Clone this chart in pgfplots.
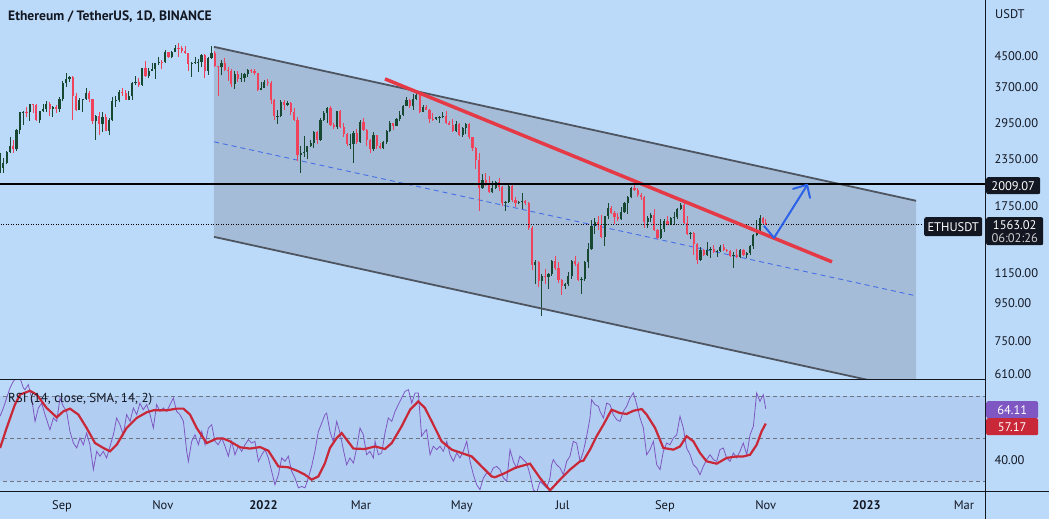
\documentclass[border=0pt]{standalone}
\usepackage{pgfplots}
\pgfplotsset{compat=1.18}
\usepackage{pgfplotstable}
\usepackage{fontspec}
\setmainfont{PT Sans}

\definecolor{bg}{RGB}{187,218,250}
\definecolor{chanfill}{RGB}{164,188,216}
\definecolor{chanline}{RGB}{78,85,96}
\definecolor{band}{RGB}{177,205,241}
\definecolor{cup}{RGB}{22,72,50}
\definecolor{cdown}{RGB}{240,66,90}
\definecolor{trend}{RGB}{229,57,70}
\definecolor{arrowblue}{RGB}{44,98,232}
\definecolor{midblue}{RGB}{70,110,230}
\definecolor{rsipurple}{RGB}{126,87,194}
\definecolor{rsired}{RGB}{200,40,55}
\definecolor{txt}{RGB}{19,23,34}
\definecolor{dashgray}{RGB}{110,115,128}

\pgfplotstableread{
d o h l c
-39.5 2120 2200 2100 2190
-37.5 2190 2450 2150 2230
-35.5 2230 2370 2160 2300
-33.5 2300 2470 2280 2460
-31.5 2460 2700 2440 2560
-29.5 2560 2660 2450 2500
-27.5 2500 2840 2480 2830
-25.5 2830 3170 2760 3160
-23.5 3160 3190 2920 3170
-21.5 3170 3270 3060 3160
-19.5 3160 3330 2990 3320
-17.5 3320 3330 3150 3310
-15.5 3310 3330 2980 3010
-13.5 3010 3190 2950 3180
-11.5 3180 3330 3160 3230
-9.5 3230 3380 3160 3320
-7.5 3320 3360 3080 3230
-5.5 3230 3280 3070 3270
-3.5 3270 3300 3150 3220
-1.5 3220 3470 3170 3430
0.5 3430 3840 3380 3790
2.5 3790 4030 3710 3890
4.5 3890 3970 3830 3930
6.5 3930 3960 3010 3500
8.5 3500 3560 3180 3210
10.5 3210 3450 3200 3410
12.5 3410 3440 3160 3430
14.5 3430 3670 3420 3570
16.5 3570 3600 3360 3430
18.5 3430 3440 2930 2980
20.5 2980 3110 2650 3080
22.5 3080 3170 2740 2930
24.5 2930 3160 2790 3060
26.5 3060 3130 2800 2810
28.5 2810 3050 2740 3000
30.5 3000 3470 2980 3390
32.5 3390 3490 3270 3400
34.5 3400 3620 3370 3590
36.5 3590 3670 3500 3560
38.5 3560 3620 3400 3420
40.5 3420 3610 3400 3490
42.5 3490 3820 3400 3790
44.5 3790 3970 3750 3830
46.5 3830 3920 3690 3750
48.5 3750 4180 3730 4160
50.5 4160 4370 3950 3970
52.5 3970 4180 3910 4090
54.5 4090 4300 4090 4130
56.5 4130 4300 3900 4290
58.5 4290 4460 4260 4330
60.5 4330 4380 4150 4320
62.5 4320 4660 4300 4610
64.5 4610 4620 4440 4480
66.5 4480 4640 4430 4620
68.5 4620 4830 4610 4730
70.5 4730 4870 4480 4720
72.5 4720 4790 4570 4650
74.5 4650 4780 4560 4580
76.5 4580 4590 4080 4280
78.5 4280 4340 3950 4300
80.5 4300 4460 4280 4320
82.5 4320 4400 4060 4340
84.5 4340 4550 4200 4520
86.5 4520 4550 3920 4100
88.5 4100 4460 3990 4440
90.5 4440 4780 4420 4590
92.5 4590 4630 4200 4220
94.5 4220 4230 3500 4200
96.5 4200 4380 3980 4310
98.5 4310 4450 4090 4110
100.5 4110 4200 3850 4080
102.5 4080 4140 3690 3780
104.5 3780 4090 3650 4020
106.5 4020 4100 3830 3880
108.5 3880 4050 3830 3920
110.5 3920 4040 3820 4020
112.5 4020 4140 3940 4110
114.5 4110 4150 4030 4100
116.5 4100 4130 3990 4040
118.5 4040 4050 3600 3630
120.5 3630 3810 3620 3680
122.5 3680 3860 3670 3830
124.5 3830 3880 3720 3790
126.5 3790 3850 3320 3420
128.5 3420 3430 3000 3080
130.5 3080 3210 2930 3090
132.5 3090 3400 3060 3370
134.5 3370 3410 3200 3310
136.5 3310 3390 3280 3350
138.5 3350 3370 3100 3160
140.5 3160 3250 2990 3000
142.5 3000 3060 2320 2410
144.5 2410 2550 2160 2440
146.5 2440 2720 2390 2460
148.5 2460 2560 2360 2550
150.5 2550 2660 2540 2610
152.5 2610 2800 2520 2790
154.5 2790 2800 2580 2660
156.5 2660 3040 2640 3010
158.5 3010 3190 2990 3140
160.5 3140 3260 2950 3240
162.5 3240 3280 2900 2920
164.5 2920 2960 2850 2880
166.5 2880 3190 2850 3180
168.5 3180 3200 2860 2880
170.5 2880 2950 2710 2760
172.5 2760 2770 2560 2580
174.5 2580 2750 2510 2590
176.5 2590 2800 2300 2770
178.5 2770 2840 2580 2620
180.5 2620 3000 2600 2970
182.5 2970 3050 2800 2830
184.5 2830 2850 2560 2660
186.5 2660 2670 2450 2500
188.5 2500 2780 2480 2730
190.5 2730 2740 2510 2560
192.5 2560 2610 2510 2520
194.5 2520 2640 2500 2620
196.5 2620 2830 2580 2810
198.5 2810 2980 2780 2950
200.5 2950 2960 2830 2900
202.5 2900 3040 2890 3030
204.5 3030 3190 2980 3110
206.5 3110 3300 3080 3290
208.5 3290 3480 3280 3400
210.5 3400 3440 3250 3280
212.5 3280 3530 3210 3440
214.5 3440 3580 3400 3520
216.5 3520 3550 3150 3170
218.5 3170 3300 3160 3260
220.5 3260 3300 3200 3210
222.5 3210 3220 2950 3030
224.5 3030 3150 2990 3020
226.5 3020 3070 3000 3060
228.5 3060 3080 2950 3070
230.5 3070 3170 3040 3080
232.5 3080 3190 2940 2960
234.5 2960 2980 2910 2920
236.5 2920 3020 2790 2810
238.5 2810 2990 2780 2940
240.5 2940 2950 2720 2730
242.5 2730 2880 2710 2860
244.5 2860 2960 2760 2940
246.5 2940 2950 2670 2700
248.5 2700 2710 2480 2520
250.5 2520 2530 2210 2340
252.5 2340 2450 1700 1960
254.5 1960 2140 1950 2060
256.5 2060 2160 1990 2020
258.5 2020 2110 1900 1910
260.5 1910 2050 1900 1960
262.5 1960 2050 1950 2040
264.5 2040 2090 1920 1980
266.5 1980 1990 1750 1790
268.5 1790 1810 1700 1800
270.5 1800 2010 1780 1990
272.5 1990 2000 1800 1820
274.5 1820 1850 1740 1780
276.5 1780 1810 1770 1800
278.5 1800 1900 1720 1810
280.5 1810 1820 1760 1790
282.5 1790 1800 1510 1530
284.5 1530 1540 1170 1210
286.5 1210 1250 1070 1230
288.5 1230 1240 1050 1090
290.5 1090 1140 880 1130
292.5 1130 1180 1070 1120
294.5 1120 1150 1040 1140
296.5 1140 1250 1130 1240
298.5 1240 1280 1170 1190
300.5 1190 1230 1080 1100
302.5 1100 1110 1000 1060
304.5 1060 1080 1040 1070
306.5 1070 1160 1060 1130
308.5 1130 1250 1110 1240
310.5 1240 1280 1200 1220
312.5 1220 1230 1090 1100
314.5 1100 1120 1010 1110
316.5 1110 1240 1090 1230
318.5 1230 1390 1190 1340
320.5 1340 1600 1330 1540
322.5 1540 1620 1470 1580
324.5 1580 1640 1510 1550
326.5 1550 1660 1430 1440
328.5 1440 1650 1360 1640
330.5 1640 1790 1610 1730
332.5 1730 1750 1670 1680
334.5 1680 1700 1560 1630
336.5 1630 1680 1590 1610
338.5 1610 1740 1600 1690
340.5 1690 1800 1680 1780
342.5 1780 1860 1670 1850
344.5 1850 1970 1840 1960
346.5 1960 2030 1930 1940
348.5 1940 1960 1850 1880
350.5 1880 1900 1820 1850
352.5 1850 1860 1530 1580
354.5 1580 1640 1530 1620
356.5 1620 1680 1580 1660
358.5 1660 1720 1500 1510
360.5 1510 1520 1420 1430
362.5 1430 1610 1420 1520
364.5 1520 1610 1490 1590
366.5 1590 1650 1550 1560
368.5 1560 1630 1550 1620
370.5 1620 1690 1550 1630
372.5 1630 1730 1610 1720
374.5 1720 1790 1710 1760
376.5 1760 1780 1560 1570
378.5 1570 1650 1460 1470
380.5 1470 1490 1420 1480
382.5 1480 1490 1290 1380
384.5 1380 1390 1220 1250
386.5 1250 1350 1240 1330
388.5 1330 1340 1280 1290
390.5 1290 1400 1280 1330
392.5 1330 1350 1260 1340
394.5 1340 1370 1300 1310
396.5 1310 1330 1270 1320
398.5 1320 1370 1310 1350
400.5 1350 1380 1320 1330
402.5 1330 1340 1310 1320
404.5 1320 1330 1270 1280
406.5 1280 1310 1190 1290
408.5 1290 1340 1260 1270
410.5 1270 1340 1260 1330
412.5 1330 1340 1280 1290
414.5 1290 1310 1260 1300
416.5 1300 1370 1290 1360
418.5 1360 1470 1340 1460
420.5 1460 1600 1450 1510
422.5 1510 1660 1500 1620
424.5 1620 1630 1560 1570
426.0 1570 1610 1555 1563.02
}\candles

\pgfplotstableread{
d r
-37.5 60.6
-35.5 64.5
-33.5 69.2
-31.5 73.9
-29.5 77.0
-27.4 79.0
-25.4 78.5
-23.4 74.0
-22.4 73.1
-20.4 75.5
-18.4 69.2
-16.3 58.2
-14.3 64.5
-12.3 66.8
-10.3 61.4
-7.3 54.3
-5.2 59.8
-3.2 58.2
-1.2 69.2
0.8 65.3
2.8 62.9
4.8 53.5
6.9 48.0
8.9 45.7
10.9 50.4
12.9 47.2
14.9 52.7
16.9 47.2
19.0 35.5
21.0 44.1
23.0 41.8
25.0 44.1
27.0 41.0
29.1 46.5
31.1 51.9
33.1 59.8
35.1 56.6
37.1 51.9
39.1 61.4
41.2 58.2
43.2 64.5
45.2 61.4
47.2 66.8
49.2 63.7
51.3 66.1
53.3 61.4
55.3 55.1
57.3 66.1
59.3 62.9
61.4 64.5
63.4 62.9
65.4 66.1
67.4 69.2
69.4 62.9
71.4 61.4
73.5 58.2
75.5 44.1
76.5 39.4
78.5 48.8
80.5 51.9
82.6 47.2
84.6 53.5
86.6 47.2
88.6 55.1
90.6 56.6
92.6 48.8
94.6 47.2
96.7 50.4
98.7 46.5
100.7 41.8
102.7 48.8
104.7 42.5
106.7 46.5
108.8 44.1
110.8 47.2
112.8 49.6
114.8 48.0
116.8 48.8
118.9 39.4
120.9 42.5
122.9 44.9
124.9 41.0
126.9 34.7
128.9 28.4
131.0 33.1
133.0 41.0
135.0 39.4
137.0 41.8
139.0 34.7
141.0 31.6
143.1 26.9
145.1 27.6
147.1 26.9
149.1 31.6
151.1 37.0
153.1 44.1
155.2 53.5
157.2 57.4
159.2 61.4
160.2 62.1
162.2 53.5
164.2 48.8
166.3 58.2
168.3 52.7
170.3 44.9
172.3 37.8
174.3 41.0
176.4 38.6
178.4 45.7
180.4 55.1
182.4 51.9
184.4 42.5
186.4 44.1
188.5 41.0
189.5 48.8
191.5 42.5
193.5 43.3
195.5 52.7
197.5 59.8
199.6 58.2
201.6 62.9
203.6 66.1
205.6 69.2
207.6 72.3
209.7 73.1
211.7 66.8
213.7 71.6
215.7 71.6
216.7 61.4
217.7 51.2
219.7 53.5
220.7 54.3
222.8 42.5
224.8 46.5
226.8 44.9
228.8 46.5
230.8 44.1
232.9 48.8
234.9 42.5
236.9 39.4
238.9 43.3
240.9 41.0
242.9 44.1
245.0 48.8
247.0 39.4
249.0 33.1
251.0 28.4
253.0 26.1
255.1 31.6
257.1 33.9
259.1 33.1
261.1 36.3
263.1 37.0
265.1 35.5
267.2 31.6
269.2 30.0
271.2 44.9
273.2 39.4
275.2 36.3
277.2 41.8
279.3 40.2
281.3 38.6
283.3 33.1
285.3 26.1
287.3 24.5
289.4 30.0
291.4 28.4
293.4 26.9
295.4 31.6
296.4 37.8
297.4 40.2
299.4 37.8
301.5 36.3
303.5 33.1
305.5 39.4
307.5 41.8
309.5 48.8
311.5 48.0
313.6 39.4
315.6 44.1
317.6 51.2
319.6 59.8
320.6 68.4
322.6 66.1
324.7 65.3
325.7 62.9
327.7 59.8
329.7 66.8
331.7 66.1
333.7 61.4
335.8 59.0
337.8 58.2
339.8 62.9
341.8 65.3
343.8 69.2
345.9 71.6
347.9 66.1
349.9 59.8
351.9 55.1
353.9 42.5
355.9 44.9
358.0 48.8
360.0 37.8
362.0 35.5
364.0 44.1
366.0 48.0
368.0 47.2
370.1 50.4
372.1 51.9
374.1 60.6
376.1 55.1
378.1 45.7
380.2 42.5
382.2 37.8
384.2 36.3
386.2 33.1
388.2 37.0
390.2 40.2
392.3 42.5
394.3 40.2
396.3 39.4
398.3 44.9
400.3 45.7
402.3 41.0
404.4 39.4
406.4 43.3
408.4 41.0
410.4 44.1
412.4 48.0
414.5 42.5
416.5 51.9
418.5 55.9
420.5 71.6
422.5 67.6
424.5 70.8
426.0 64.11
}\rsi

\pgfplotstableread{
d r
-37.5 45.7
-33.5 55.1
-28.5 66.1
-25.4 70.8
-19.4 72.6
-15.3 70.8
-9.3 64.5
-3.2 60.1
0.8 62.9
4.8 64.2
9.9 61.4
14.9 55.1
20.0 48.0
25.0 45.7
29.1 44.1
33.1 47.2
39.1 55.1
45.2 59.8
51.3 62.5
55.3 63.4
63.4 63.4
69.4 64.2
73.5 64.2
77.5 61.4
81.5 55.1
87.6 48.0
93.6 50.1
97.7 50.1
101.7 48.8
107.8 46.0
113.8 45.4
119.9 46.1
124.9 44.4
131.0 37.0
137.0 36.6
143.1 34.7
147.1 33.1
151.1 30.8
155.2 32.3
159.2 38.6
162.2 45.7
166.3 50.4
169.3 52.7
172.3 49.6
176.4 45.4
183.4 45.2
189.5 46.4
195.5 45.2
199.6 48.0
205.6 55.9
210.7 63.7
215.7 67.6
219.7 64.5
223.8 58.2
229.8 48.8
235.9 44.9
241.9 43.3
248.0 41.7
254.0 37.0
260.1 32.3
262.1 31.9
268.2 33.9
274.2 36.3
277.2 37.0
283.3 38.3
289.4 31.5
295.4 25.7
301.5 30.8
307.5 35.5
313.6 39.4
315.6 39.7
319.6 44.9
323.6 51.2
327.7 56.6
332.7 63.7
337.8 62.1
341.8 61.7
345.9 63.2
350.9 64.0
353.9 61.4
359.0 55.1
364.0 45.7
370.1 44.9
374.1 46.4
378.1 51.2
382.2 48.8
386.2 43.3
390.2 39.4
396.3 38.3
402.3 41.0
408.4 41.7
412.4 41.7
416.5 42.5
420.5 47.2
423.5 53.5
426.0 57.17
}\rsisma

\begin{document}
\begin{tikzpicture}
\useasboundingbox (0pt,0pt) rectangle (1049pt,519pt);
\fill[bg] (0pt,0pt) rectangle (1049pt,519pt);

% ---------------- price pane ----------------
\begin{axis}[
  at={(0pt,139pt)}, anchor=south west, scale only axis,
  width=985pt, height=380pt,
  xmin=-37.53, xmax=558.72,
  ymode=log, ymin=587, ymax=6393,
  axis line style={draw=none},
  xtick=\empty,
  ytick={610,750,950,1150,1750,2350,2950,3700,4500},
  yticklabels={610.00,750.00,950.00,1150.00,1750.00,2350.00,2950.00,3700.00,4500.00},
  yticklabel pos=right,
  yticklabel style={anchor=west, xshift=6pt, font=\fontsize{12.5}{15}\selectfont, text=txt},
  major tick length=0pt,
  clip=true,
]
\addplot[fill=chanfill, draw=none, forget plot] coordinates {(92.0,4762) (517.0,1810) (517.0,560) (508.7,560) (92.0,1443)} -- cycle;
\addplot[midblue, line width=0.9pt, dash pattern=on 5pt off 4pt, forget plot] coordinates {(92.0,2622) (517.0,996)};
\pgfplotstablegetrowsof{\candles}
\pgfmathtruncatemacro\nlast{\pgfplotsretval-1}
\foreach \i in {0,...,\nlast}{%
  \pgfplotstablegetelem{\i}{d}\of\candles \let\cD\pgfplotsretval
  \pgfplotstablegetelem{\i}{o}\of\candles \let\cO\pgfplotsretval
  \pgfplotstablegetelem{\i}{h}\of\candles \let\cH\pgfplotsretval
  \pgfplotstablegetelem{\i}{l}\of\candles \let\cL\pgfplotsretval
  \pgfplotstablegetelem{\i}{c}\of\candles \let\cC\pgfplotsretval
  \pgfmathtruncatemacro\isdown{\cC<\cO}%
  \ifnum\isdown=1 \def\ccol{cdown}\else\def\ccol{cup}\fi
  \edef\doit{%
    \noexpand\addplot[forget plot, color=\ccol, line width=0.9pt] coordinates {(\cD,\cL) (\cD,\cH)};
    \noexpand\addplot[forget plot, color=\ccol, line width=2.2pt] coordinates {(\cD,\cO) (\cD,\cC)};
  }\doit
}
\addplot[chanline, line width=1.8pt, forget plot] coordinates {(92.0,4762) (517.0,1810)};
\addplot[chanline, line width=1.8pt, forget plot] coordinates {(92.0,1443) (508.7,560)};
\addplot[black, line width=0.9pt, dash pattern=on 1pt off 1.5pt, forget plot] coordinates {(-40,1563.02) (521.2,1563.02)};
\addplot[trend, line width=3.5pt, forget plot] coordinates {(195.5,3893) (466.1,1233)};
\addplot[black, line width=1.8pt, forget plot] coordinates {(-40,2009.07) (560,2009.07)};
\addplot[arrowblue, line width=2pt, line join=round, forget plot] coordinates {(424.9,1547) (431.0,1434) (451.0,1995)};
\addplot[arrowblue, line width=2pt, line join=round, line cap=round, forget plot] coordinates {(442.5,1951) (451.0,2001) (452.8,1844)};
\end{axis}

% ---------------- RSI pane ----------------
\begin{axis}[
  at={(0pt,27.5pt)}, anchor=south west, scale only axis,
  width=985pt, height=111pt,
  xmin=-37.53, xmax=558.72,
  ymin=25.2, ymax=77.44,
  axis line style={draw=none},
  ytick={40}, yticklabels={40.00},
  yticklabel pos=right,
  yticklabel style={anchor=west, xshift=6pt, font=\fontsize{12.5}{15}\selectfont, text=txt},
  xtick={0,61,122,181,242,303,365,426,487,546},
  xticklabels={Sep,Nov,\textbf{2022},Mar,May,Jul,Sep,Nov,\textbf{2023},Mar},
  xticklabel style={anchor=base, yshift=-18pt, font=\fontsize{12.5}{15}\selectfont, text=txt},
  major tick length=0pt,
  clip=true,
]
\addplot[fill=band, draw=none] coordinates {(-40,30) (560,30) (560,70) (-40,70)} -- cycle;
\addplot[dashgray, line width=0.8pt, dash pattern=on 4pt off 3pt] coordinates {(-40,70) (560,70)};
\addplot[dashgray, line width=0.8pt, dash pattern=on 4pt off 3pt] coordinates {(-40,50) (560,50)};
\addplot[dashgray, line width=0.8pt, dash pattern=on 4pt off 3pt] coordinates {(-40,30) (560,30)};
\addplot[rsipurple, line width=0.8pt] table[x=d, y=r] {\rsi};
\addplot[rsired, line width=2.2pt] table[x=d, y=r] {\rsisma};
\end{axis}

% separators and right scale border
\draw[txt, line width=1pt] (0pt,139pt) -- (985pt,139pt);
\draw[txt, line width=1pt] (0pt,27.5pt) -- (1049pt,27.5pt);
\draw[txt, line width=1pt] (985pt,0pt) -- (985pt,519pt);

% texts
\node[anchor=base west, inner sep=0, font=\bfseries\fontsize{13.6}{16}\selectfont, text=txt] at (8pt,498.5pt) {Ethereum / TetherUS, 1D, BINANCE};
\node[anchor=base west, inner sep=0, font=\fontsize{12.5}{15}\selectfont, text=txt] at (995pt,500.5pt) {USDT};
\node[anchor=base west, inner sep=0, font=\fontsize{13}{15}\selectfont, text=txt] at (8pt,116.5pt) {RSI (14, close, SMA, 14, 2)};

% price labels
\node[fill=txt, text=white, rounded corners=2pt, anchor=north west, minimum width=54pt, minimum height=17pt, inner sep=0, font=\fontsize{12.5}{15}\selectfont] at (986pt,342pt) {2009.07};
\node[fill=txt, text=white, rounded corners=2pt, anchor=north west, minimum width=58pt, minimum height=19pt, inner sep=0, font=\fontsize{12.5}{15}\selectfont] at (924pt,302pt) {ETHUSDT};
\node[fill=txt, text=white, rounded corners=2pt, anchor=north west, minimum width=57pt, minimum height=28pt, inner sep=0, align=center, font=\fontsize{12.5}{13}\selectfont] at (986pt,302pt) {1563.02\\{\color{black!20}06:02:26}};
\node[fill=rsipurple, text=white, rounded corners=2pt, anchor=north west, minimum width=52pt, minimum height=17pt, inner sep=0, font=\fontsize{12.5}{15}\selectfont] at (986pt,118pt) {64.11};
\node[fill=rsired, text=white, rounded corners=2pt, anchor=north west, minimum width=52pt, minimum height=17pt, inner sep=0, font=\fontsize{12.5}{15}\selectfont] at (986pt,101pt) {57.17};
\end{tikzpicture}
\end{document}
